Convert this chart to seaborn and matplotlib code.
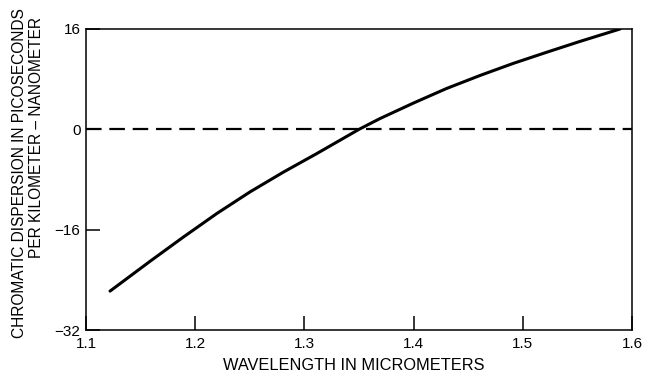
import matplotlib
matplotlib.use("Agg")
import matplotlib.pyplot as plt
import seaborn as sns
import pandas as pd

# Data
wavelength = [1.122, 1.159, 1.189, 1.220, 1.250, 1.281, 1.311, 1.334, 1.350,
              1.369, 1.400, 1.430, 1.461, 1.491, 1.522, 1.552, 1.589]
dispersion = [-25.8, -21.0, -17.2, -13.4, -10.0, -6.8, -3.9, -1.6, 0.0,
              1.7, 4.2, 6.5, 8.6, 10.5, 12.3, 14.0, 16.0]
x_ticks = [1.1, 1.2, 1.3, 1.4, 1.5, 1.6]
x_tick_labels = ["1.1", "1.2", "1.3", "1.4", "1.5", "1.6"]
y_ticks = [-32, -16, 0, 16]
y_tick_labels = ["\u221232", "\u221216", "0", "16"]
zero_level = 0

sns.set_style("ticks")
plt.rcParams["font.family"] = ["Liberation Sans", "DejaVu Sans"]

W, H = 646, 379
fig = plt.figure(figsize=(W / 100, H / 100), dpi=100)
left, right, top, bottom = 86, 632, 29, 330
ax = fig.add_axes([left / W, 1 - bottom / H, (right - left) / W, (bottom - top) / H])

df = pd.DataFrame({"wavelength": wavelength, "dispersion": dispersion})
sns.lineplot(data=df, x="wavelength", y="dispersion", ax=ax, color="black",
             linewidth=2.2, estimator=None, sort=False)
ax.axhline(zero_level, color="black", linewidth=1.6, dashes=(7, 3.5))

ax.set_xlim(1.1, 1.6)
ax.set_ylim(-32, 16)
ax.set_xticks(x_ticks)
ax.set_xticklabels(x_tick_labels)
ax.set_yticks(y_ticks)
ax.set_yticklabels(y_tick_labels)
ax.set_xlabel("")
ax.set_ylabel("")

for s in ax.spines.values():
    s.set_visible(True)
    s.set_color("black")
    s.set_linewidth(1.1)

ax.tick_params(axis="both", direction="in", length=10, width=1.1, color="black",
               labelsize=11, labelcolor="black")
ax.tick_params(axis="x", pad=5)
ax.tick_params(axis="y", pad=4)

fig.text(354 / W, 1 - 366 / H, "WAVELENGTH IN MICROMETERS", ha="center", va="center",
         fontsize=11.8, color="black")
fig.text(20 / W, 1 - 173 / H, "CHROMATIC DISPERSION IN PICOSECONDS", ha="center",
         va="center", rotation=90, fontsize=11.2, color="black")
fig.text(37 / W, 1 - 138 / H, "PER KILOMETER \u2013 NANOMETER", ha="center",
         va="center", rotation=90, fontsize=11.2, color="black")

fig.savefig("out.png", dpi=100, facecolor="white")
